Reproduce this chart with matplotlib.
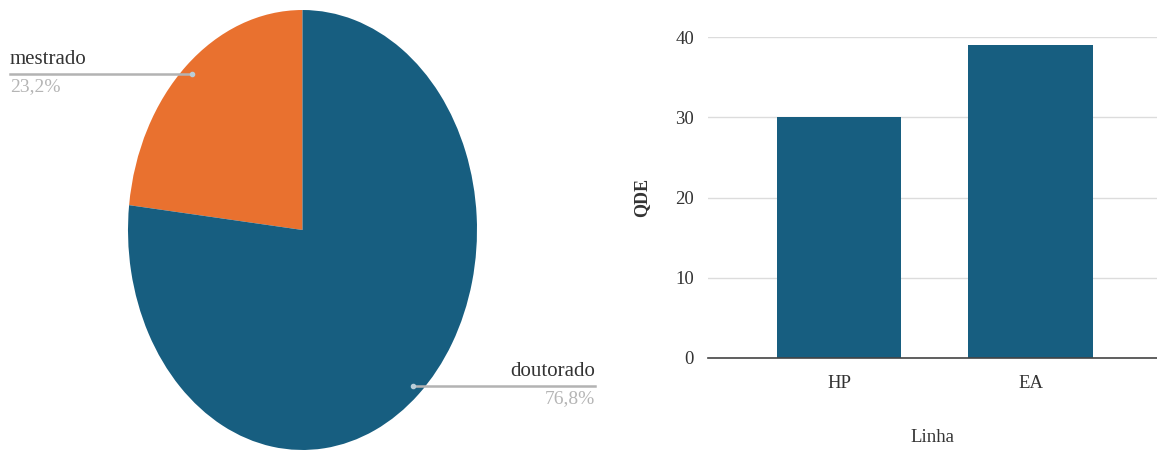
import matplotlib.pyplot as plt
import numpy as np

# —— data —— #
pie_labels = ["mestrado", "doutorado"]
pie_values = [23.2, 76.8]
pie_text = ["23,2%", "76,8%"]

bar_labels = ["HP", "EA"]
bar_values = [30, 39]
y_ticks = [0, 10, 20, 30, 40]

blue = "#175e80"
orange = "#e9712f"
plt.rcParams["font.family"] = ["Liberation Serif", "DejaVu Serif"]

W, H = 1157, 450
fig = plt.figure(figsize=(W / 100, H / 100), dpi=100)

# —— pie (stretched ellipse) —— #
ax1 = fig.add_axes([128 / W, 0 / H, 349 / W, 440 / H])
wedges, _ = ax1.pie(pie_values, colors=[orange, blue], startangle=90,
                    counterclock=True, radius=1.0,
                    wedgeprops=dict(linewidth=0))
ax1.set_aspect("auto")
ax1.set_xlim(-1, 1)
ax1.set_ylim(-1, 1)

inv = fig.transFigure.inverted()
label_x = [10 / W, 595 / W]
for i, w in enumerate(wedges):
    mid = np.deg2rad((w.theta1 + w.theta2) / 2)
    px, py = 0.95 * np.cos(mid), 0.95 * np.sin(mid)
    fx, fy = inv.transform(ax1.transData.transform((px, py)))
    lx = label_x[i]
    fig.add_artist(plt.Line2D([fx, lx], [fy, fy], color="#b3b3b3", lw=1.8,
                              transform=fig.transFigure))
    fig.add_artist(plt.Line2D([fx], [fy], marker="o", ms=3, color="#b8cdd8",
                              transform=fig.transFigure))
    ha = "left" if i == 0 else "right"
    fig.text(lx, fy + 5 / H, pie_labels[i], ha=ha, va="bottom",
             fontsize=15, color="#333333")
    fig.text(lx, fy - 4 / H, pie_text[i], ha=ha, va="top",
             fontsize=14, color="#b5b5b5")

# —— bar chart —— #
ax2 = fig.add_axes([708 / W, 92 / H, (W - 708) / W, 321 / H])
x = np.arange(len(bar_labels))
ax2.bar(x, bar_values, width=0.65, color=blue, zorder=3)
ax2.set_xlim(-0.684, 1.66)
ax2.set_ylim(0, 40)
ax2.set_yticks(y_ticks)
ax2.set_xticks(x)
ax2.set_xticklabels(bar_labels)
ax2.grid(axis="y", color="#dcdcdc", lw=1, zorder=0)
ax2.set_axisbelow(True)
for s in ["top", "right", "left"]:
    ax2.spines[s].set_visible(False)
ax2.spines["bottom"].set_color("#444444")
ax2.spines["bottom"].set_linewidth(1.2)
ax2.spines["bottom"].set_zorder(4)
ax2.tick_params(axis="both", length=0, labelsize=13.5, colors="#333333")
ax2.tick_params(axis="y", pad=10)
ax2.tick_params(axis="x", pad=12)
ax2.set_ylabel("QDE", fontsize=13, color="#333333", labelpad=18, fontweight="bold")
ax2.set_xlabel("Linha", fontsize=13.5, color="#333333", labelpad=27)

fig.savefig("out.png", dpi=100)
